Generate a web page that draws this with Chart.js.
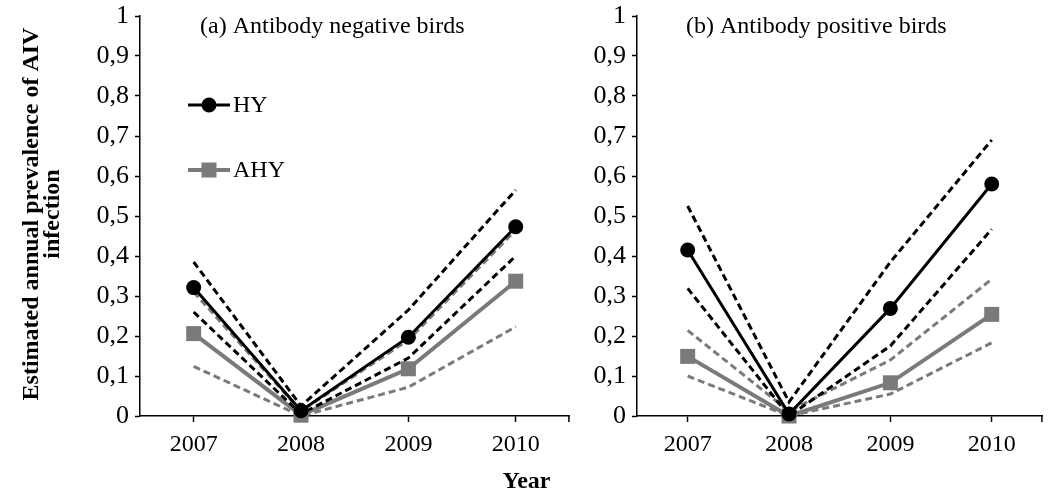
<!DOCTYPE html>
<html><head><meta charset="utf-8">
<script src="https://cdn.jsdelivr.net/npm/chart.js@4/dist/chart.umd.min.js"></script>
<style>
body{margin:0;width:1053px;height:492px;background:#fff;position:relative;overflow:hidden;}
#c1{position:absolute;left:0;top:0;}
#c2{position:absolute;left:580px;top:0;}
#xt{position:absolute;top:466px;left:0;width:1053px;text-align:center;font:bold 24px "Liberation Serif";color:#000;line-height:28px;}
</style></head><body>
<canvas id="c1" width="580" height="492"></canvas>
<canvas id="c2" width="473" height="492"></canvas>
<div id="xt">Year</div>
<script>
const years = ['2007', '2008', '2009', '2010'];
const yTickLabels = ['0', '0,1', '0,2', '0,3', '0,4', '0,5', '0,6', '0,7', '0,8', '0,9', '1'];

// (a) Antibody negative birds
const negHY    = [0.321, 0.013, 0.197, 0.473];
const negHYlo  = [0.260, 0.005, 0.145, 0.400];
const negHYhi  = [0.385, 0.025, 0.265, 0.565];
const negAHY   = [0.206, 0.002, 0.118, 0.337];
const negAHYlo = [0.124, 0.000, 0.072, 0.223];
const negAHYhi = [0.310, 0.012, 0.190, 0.465];

// (b) Antibody positive birds
const posHY    = [0.415, 0.005, 0.269, 0.580];
const posHYlo  = [0.319, 0.000, 0.175, 0.467];
const posHYhi  = [0.525, 0.035, 0.385, 0.690];
const posAHY   = [0.149, 0.000, 0.083, 0.254];
const posAHYlo = [0.100, 0.000, 0.055, 0.183];
const posAHYhi = [0.214, 0.012, 0.140, 0.342];

const BLACK = '#000000';
const GRAY = '#7a7a7a';
const FONT = 'Liberation Serif';

function ds(label, data, color, opts) {
  return Object.assign({
    label, data, borderColor: color, backgroundColor: color,
    borderWidth: 3, pointRadius: 0, fill: false, tension: 0, clip: false
  }, opts || {});
}

const annot = {
  id: 'annot',
  afterDraw(chart) {
    const o = chart.options.plugins.annot;
    const ctx = chart.ctx;
    const ca = chart.chartArea;
    ctx.save();
    ctx.strokeStyle = '#000';
    ctx.lineWidth = 1.5;
    ctx.beginPath();
    ctx.moveTo(ca.right - 0.5, ca.bottom);
    ctx.lineTo(ca.right - 0.5, ca.bottom + 6);
    ctx.stroke();
    ctx.fillStyle = '#000';
    ctx.font = '24px "' + FONT + '"';
    ctx.textAlign = 'left';
    ctx.textBaseline = 'alphabetic';
    ctx.fillText(o.title, o.titleX, 33);
    if (o.legend) {
      const items = [
        {t: 'HY', c: BLACK, y: 105, s: 'circle'},
        {t: 'AHY', c: GRAY, y: 170, s: 'rect'}
      ];
      items.forEach(it => {
        ctx.strokeStyle = it.c;
        ctx.fillStyle = it.c;
        ctx.lineWidth = it.s === 'circle' ? 3 : 4;
        ctx.beginPath();
        ctx.moveTo(188, it.y);
        ctx.lineTo(230, it.y);
        ctx.stroke();
        if (it.s === 'circle') {
          ctx.beginPath();
          ctx.arc(209, it.y, 7.5, 0, Math.PI * 2);
          ctx.fill();
        } else {
          ctx.fillRect(201.5, it.y - 7.5, 15, 15);
        }
        ctx.fillStyle = '#000';
        ctx.textBaseline = 'middle';
        ctx.fillText(it.t, 233, it.y + 1);
      });
    }
    if (o.yTitle) {
      ctx.translate(0, 214);
      ctx.rotate(-Math.PI / 2);
      ctx.font = 'bold 24px "' + FONT + '"';
      ctx.textAlign = 'center';
      ctx.textBaseline = 'alphabetic';
      ctx.fillStyle = '#000';
      ctx.fillText(o.yTitle[0], 0, 38);
      ctx.fillText(o.yTitle[1], 0, 59);
    }
    ctx.restore();
  }
};

function makeChart(id, s, yWidth, padRight, annotOpts) {
  return new Chart(document.getElementById(id), {
    type: 'line',
    data: {
      labels: years,
      datasets: [
        ds('HY', s[0], BLACK, {pointRadius: 7.5, pointStyle: 'circle', borderWidth: 3, pointBorderWidth: 0}),
        ds('HY upper', s[2], BLACK, {borderDash: [7, 4]}),
        ds('HY lower', s[1], BLACK, {borderDash: [7, 4]}),
        ds('AHY', s[3], GRAY, {pointRadius: 10.6, pointStyle: 'rect', borderWidth: 4, pointBorderWidth: 0}),
        ds('AHY upper', s[5], GRAY, {borderDash: [7, 4]}),
        ds('AHY lower', s[4], GRAY, {borderDash: [7, 4]})
      ]
    },
    options: {
      responsive: false,
      animation: false,
      events: [],
      layout: {padding: {top: 16, right: padRight, bottom: 0, left: 0}},
      plugins: {legend: {display: false}, tooltip: {enabled: false}, annot: annotOpts},
      scales: {
        x: {
          type: 'category',
          offset: true,
          afterFit(scale) { scale.height = 76; scale.paddingLeft = 0; scale.paddingRight = 0; },
          grid: {offset: false, drawOnChartArea: false, drawTicks: true, tickLength: 6, color: '#000', tickWidth: 1.5},
          border: {display: true, color: '#000', width: 1.5},
          ticks: {color: '#000', padding: 8, font: {family: FONT, size: 24}, maxRotation: 0, autoSkip: false}
        },
        y: {
          min: 0, max: 1,
          afterFit(scale) { scale.width = yWidth; scale.paddingTop = 0; scale.paddingBottom = 0; },
          grid: {drawOnChartArea: false, drawTicks: true, tickLength: 5, color: '#000', tickWidth: 1.5},
          border: {display: true, color: '#000', width: 1.5},
          ticks: {
            stepSize: 0.1, color: '#000', padding: 6,
            font: {family: FONT, size: 26},
            callback: (v, i) => yTickLabels[i]
          }
        }
      }
    },
    plugins: [annot]
  });
}

makeChart('c1', [negHY, negHYlo, negHYhi, negAHY, negAHYlo, negAHYhi], 140, 7, {
  title: '(a) Antibody negative birds', titleX: 200, legend: true,
  yTitle: ['Estimated annual prevalence of AIV', 'infection']
});
makeChart('c2', [posHY, posHYlo, posHYhi, posAHY, posAHYlo, posAHYhi], 57, 0, {
  title: '(b) Antibody positive birds', titleX: 106, legend: false, yTitle: null
});
</script>
</body></html>
